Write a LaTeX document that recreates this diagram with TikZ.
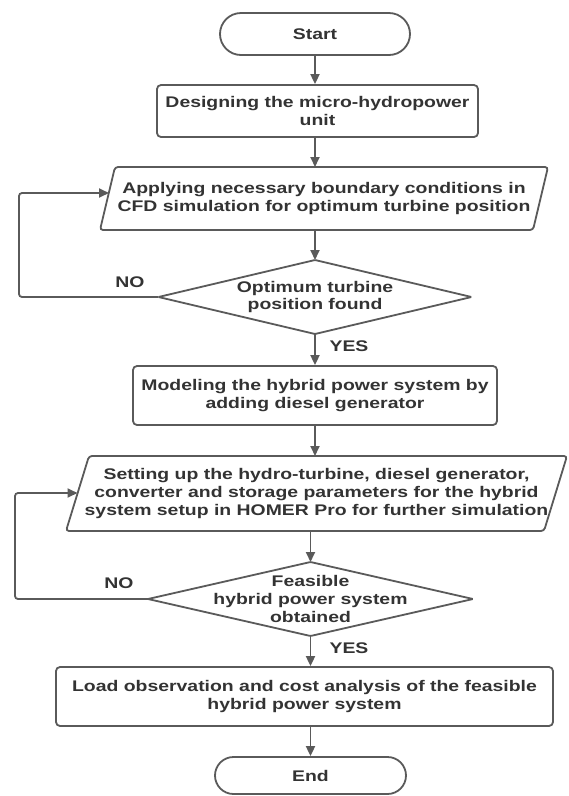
\documentclass[tikz,border=0pt]{standalone}
\usepackage{fontspec}
\setmainfont{Liberation Sans}[FakeStretch=1.26]
\usetikzlibrary{arrows.meta,calc}
\definecolor{linec}{HTML}{5A5A5A}
\definecolor{textc}{HTML}{333333}
\begin{document}
\begin{tikzpicture}[x=1pt,y=-1pt,
  every node/.style={text=textc,font=\fontsize{15.4}{17.8}\selectfont\bfseries,align=center},
  shp/.style={draw=linec,line width=1.8pt},
  term/.style={shp,rectangle,inner sep=0pt},
  proc/.style={shp,rectangle,rounded corners=4pt,inner sep=0pt},
  hold/.style={rectangle,inner sep=0pt,outer sep=0pt},
  outl/.style={draw=linec,line width=1.8pt,rounded corners=3pt},
  arr/.style={draw=linec,line width=1.8pt,-{Triangle[length=10pt,width=9pt]}},
  lbl/.style={inner sep=0pt}]
\useasboundingbox (0,0) rectangle (569,796);
\fill[white] (0,0) rectangle (569,796);

% nodes
\node[term,minimum width=190pt,minimum height=42pt,rounded corners=21pt] (start) at (315,34) {Start};
\node[proc,minimum width=321pt,minimum height=52pt] (b1) at (317.5,111) {Designing the micro-hydropower\\unit};
\node[hold,minimum width=433pt,minimum height=63pt] (p1) at (324,198.5) {Applying necessary boundary conditions in\\CFD simulation for optimum turbine position};
\draw[outl] ([xshift=7.5pt]p1.north west) -- ([xshift=7.5pt]p1.north east) -- ([xshift=-7.5pt]p1.south east) -- ([xshift=-7.5pt]p1.south west) -- cycle;
\node[hold,minimum width=313pt,minimum height=74pt] (d1) at (315,297) {Optimum turbine\\position found};
\draw[outl,rounded corners=1pt] (d1.north) -- (d1.east) -- (d1.south) -- (d1.west) -- cycle;
\node[proc,minimum width=364pt,minimum height=59pt] (b2) at (315,395.5) {Modeling the hybrid power system by\\adding diesel generator};
\node[hold,minimum width=478pt,minimum height=75pt] (p2) at (316.5,493.5) {Setting up the hydro-turbine, diesel generator,\\converter and storage parameters for the hybrid\\system setup in HOMER Pro for further simulation};
\draw[outl] ([xshift=11.5pt]p2.north west) -- ([xshift=11.5pt]p2.north east) -- ([xshift=-11.5pt]p2.south east) -- ([xshift=-11.5pt]p2.south west) -- cycle;
\node[hold,minimum width=325pt,minimum height=74pt] (d2) at (310.5,599) {Feasible\\hybrid power system\\obtained};
\draw[outl,rounded corners=1pt] (d2.north) -- (d2.east) -- (d2.south) -- (d2.west) -- cycle;
\node[proc,minimum width=497pt,minimum height=59pt] (load) at (304.5,696.5) {Load observation and cost analysis of the feasible\\hybrid power system};
\node[term,minimum width=191pt,minimum height=37pt,rounded corners=18.5pt] (end) at (310.5,775.5) {End};

% labels
\node[lbl] (no1) at (130,282) {NO};
\node[lbl] (yes1) at (349,346) {YES};
\node[lbl] (no2) at (119,583) {NO};
\node[lbl] (yes2) at (349,648) {YES};

% loop coordinates
\coordinate (p1in) at (109,193);
\coordinate (l1) at (19,0);
\coordinate (p2in) at (77.5,493);
\coordinate (l2) at (15,0);

% connectors
\draw[arr] (start.south) -- (start.south |- b1.north);
\draw[arr] (b1.south -| start.south) -- (p1.north -| start.south);
\draw[arr] (p1.south -| d1.north) -- (d1.north);
\draw[arr] (d1.south) -- (b2.north);
\draw[arr] (b2.south) -- (b2.south |- p2.north);
\draw[arr] (p2.south -| d2.north) -- (d2.north);
\draw[arr] (d2.south) -- (d2.south |- load.north);
\draw[arr] (load.south -| end.north) -- (end.north);
\draw[arr,rounded corners=3pt] (d1.west) -- (d1.west -| l1) -- (l1 |- p1in) -- (p1in);
\draw[arr,rounded corners=3pt] (d2.west) -- (d2.west -| l2) -- (l2 |- p2in) -- (p2in);
\end{tikzpicture}
\end{document}
